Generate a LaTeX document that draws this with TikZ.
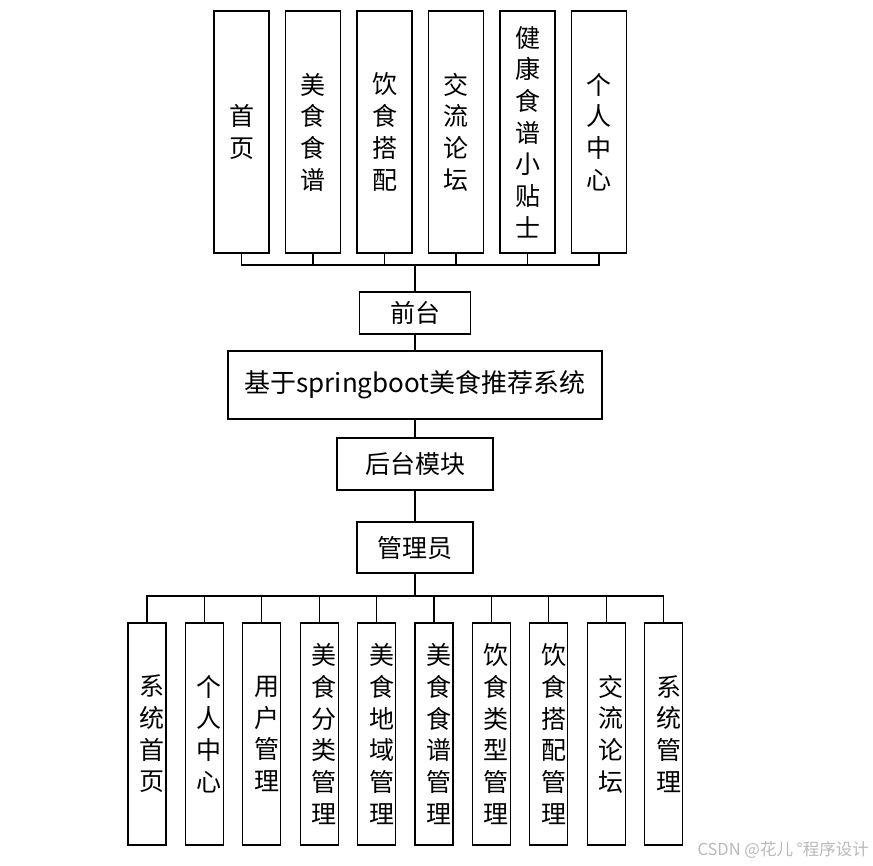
\documentclass[tikz,border=0pt]{standalone}
\usepackage{fontspec}
\setmainfont{Noto Sans CJK SC}
\begin{document}
\begin{tikzpicture}[x=1pt,y=-1pt,
  box/.style={draw,line width=1.2pt,inner sep=0pt,font=\fontsize{25}{31.7}\selectfont,align=center},
  topbox/.style={box,minimum width=55pt,minimum height=242pt},
  lowbox/.style={box,minimum width=38pt,minimum height=222pt},
  lowtxt/.style={inner sep=0pt,font=\fontsize{25}{31.7}\selectfont,align=center},
  link/.style={line width=1.2pt}]
  \useasboundingbox (0,0) rectangle (873,865);
  % front end modules
  \foreach \lbl [count=\i] in {{首\\页},{美\\食\\食\\谱},{饮\\食\\搭\\配},{交\\流\\论\\坛},{健\\康\\食\\谱\\小\\贴\\士},{个\\人\\中\\心}}
    \node[topbox] (t\i) at ({170+71.5*\i},132) {\lbl};
  \node[box,minimum width=111pt,minimum height=42pt] (qiantai) at (415,313) {前台};
  \node[box,minimum width=374pt,minimum height=68pt,font=\fontsize{26}{31.7}\selectfont] (sys) at (415,385) {基于springboot美食推荐系统};
  \node[box,minimum width=156pt,minimum height=52pt] (houtai) at (415,464) {后台模块};
  \node[box,minimum width=116pt,minimum height=51pt] (gly) at (415,547.5) {管理员};
  \coordinate (bustop) at (415,265);
  \coordinate (buslow) at (415,596);
  \foreach \i in {1,...,6}
    \draw[link] (t\i.south) |- (bustop);
  \draw[link] (bustop) -- (qiantai);
  \draw[link] (qiantai) -- (sys);
  \draw[link] (sys) -- (houtai);
  \draw[link] (houtai) -- (gly);
  \draw[link] (gly) -- (buslow);
  % admin modules
  \foreach \lbl [count=\i] in {{系\\统\\首\\页},{个\\人\\中\\心},{用\\户\\管\\理},{美\\食\\分\\类\\管\\理},{美\\食\\地\\域\\管\\理},{美\\食\\食\\谱\\管\\理},{饮\\食\\类\\型\\管\\理},{饮\\食\\搭\\配\\管\\理},{交\\流\\论\\坛},{系\\统\\管\\理}}{
    \node[lowbox] (b\i) at ({89.6+57.4*\i},734) {};
    \node[lowtxt] (bt\i) at ([xshift=5pt]b\i.center) {\lbl};
    \draw[link] (buslow) -| (b\i.north);
  }
  \node[text=gray!55,inner sep=0pt,anchor=east,font=\fontsize{16.5}{16.5}\selectfont] (mark) at (869,850) {CSDN @花儿 °程序设计};
\end{tikzpicture}
\end{document}
